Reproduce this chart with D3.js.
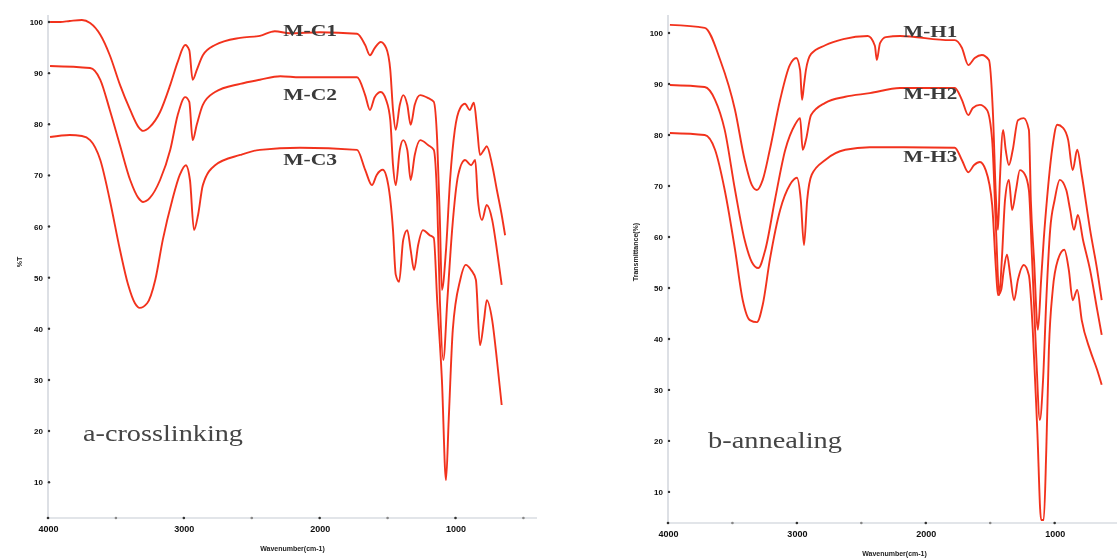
<!DOCTYPE html>
<meta charset="utf-8">

<!-- Load d3.js -->
<script src="https://d3js.org/d3.v7.min.js"></script>

<style>
  body { margin: 0; background: #fff; }
</style>

<!-- Create a div where the graph will take place -->
<div id="my_dataviz"></div>

<script>

// axis ticks, shared by both panels
var yTicks = [10, 20, 30, 40, 50, 60, 70, 80, 90, 100];
var xTicks = [4000, 3000, 2000, 1000];
var xMinor = [3500, 2500, 1500, 500];

// a-crosslinking spectra, [wavenumber, %T]
var mc1 = [[3985,100],[3910,100],[3840,100.2],[3750,100.4],[3690,99.8],[3615,97.5],[3545,93.5],[3470,87.7],
  [3395,82.8],[3335,79.5],[3300,78.7],[3250,79.5],[3175,82.4],[3100,87.7],[3045,92.2],[2990,95.5],[2960,94.5],
  [2935,88.7],[2905,90.6],[2860,93.5],[2770,95.5],[2585,96.9],[2440,97.3],[2330,98.2],[2220,97.8],[2000,98.0],
  [1725,97.7],[1665,95.5],[1630,93.5],[1595,94.9],[1550,96.1],[1510,94.9],[1480,90.6],[1460,82.8],[1440,78.9],
  [1410,83.8],[1385,85.7],[1355,83.8],[1330,79.9],[1300,83.8],[1260,85.7],[1200,85.1],[1160,84.4],[1135,76.9],
  [1115,61.3],[1100,47.6],[1070,55.4],[1040,69.1],[1005,78.9],[965,83.2],[930,84.0],[895,82.8],[865,84.2],
  [840,78.9],[820,74.0],[790,75.0],[770,75.7],[730,72.0],[695,67.1],[660,62.3],[635,58.3]];

var mc2 = [[3985,91.4],[3690,91.0],[3615,88.7],[3545,82.8],[3470,75.9],[3395,69.1],[3335,65.6],[3300,64.8],
  [3250,65.6],[3175,69.1],[3100,75.0],[3045,81.8],[2990,85.3],[2960,84.4],[2935,76.9],[2905,79.9],[2860,83.8],
  [2770,86.3],[2585,87.9],[2440,88.7],[2290,89.4],[2145,89.2],[1725,89.2],[1665,85.7],[1630,82.8],[1595,85.3],
  [1550,86.3],[1510,84.7],[1480,80.8],[1460,72.0],[1440,68.1],[1410,75.0],[1385,76.9],[1355,75.0],[1330,69.1],
  [1300,74.0],[1260,76.9],[1200,75.9],[1160,75.0],[1135,65.2],[1115,45.6],[1090,33.9],[1060,45.6],[1025,59.3],
  [980,70.1],[930,73.0],[885,72.0],[855,73.0],[835,65.2],[805,61.3],[770,64.2],[730,61.3],[695,55.4],[660,48.6]];

var mc3 = [[3985,77.5],[3840,77.9],[3750,77.7],[3690,76.9],[3615,73.0],[3545,65.2],[3470,55.4],[3410,48.6],
  [3360,45.0],[3325,44.1],[3270,45.0],[3210,49.6],[3155,57.4],[3085,65.2],[3030,70.1],[2985,72.0],[2955,69.1],
  [2925,59.3],[2895,62.3],[2860,68.1],[2770,72.0],[2585,74.0],[2440,75.0],[2145,75.4],[1725,75.0],[1665,71.1],
  [1615,68.1],[1580,70.1],[1535,71.1],[1495,68.1],[1460,59.3],[1440,50.6],[1415,49.2],[1385,57.4],[1355,59.3],
  [1330,55.4],[1305,51.5],[1275,56.4],[1240,59.3],[1190,58.3],[1160,57.8],[1135,45.6],[1100,30.0],[1070,10.4],
  [1050,22.2],[1020,39.8],[965,49.6],[925,52.5],[885,51.5],[850,49.6],[820,36.8],[790,41.7],[770,45.6],
  [730,41.7],[695,33.9],[660,25.1]];

// b-annealing spectra, [wavenumber, %T]
var mh1 = [[3985,101.6],[3715,101.0],[3595,94.7],[3480,84.9],[3405,75.1],[3350,70.2],[3310,69.2],[3265,71.2],
  [3210,77.1],[3130,86.9],[3055,93.7],[3005,95.1],[2975,92.7],[2960,86.9],[2945,89.8],[2930,92.7],[2890,95.9],
  [2780,97.6],[2640,98.8],[2450,99.4],[2395,97.5],[2380,94.7],[2355,98.0],[2310,99.2],[2200,99.4],[1810,98.6],
  [1775,98.6],[1720,97.1],[1670,93.7],[1620,95.1],[1565,95.7],[1510,94.7],[1480,84.9],[1455,67.3],[1440,61.4],
  [1425,71.2],[1400,81.0],[1380,77.1],[1355,74.1],[1325,77.1],[1285,82.9],[1240,83.3],[1200,81.0],[1185,67.3],
  [1160,55.5],[1130,41.8],[1105,51.6],[1085,59.4],[1060,67.3],[1020,77.1],[980,82.0],[935,81.4],[895,79.0],
  [860,73.1],[825,77.1],[790,72.2],[725,61.4],[670,53.5],[635,47.6]];

var mh2 = [[3985,89.8],[3715,89.4],[3635,86.9],[3560,81.0],[3480,69.2],[3405,59.4],[3350,55.1],[3300,53.9],
  [3245,57.5],[3170,67.3],[3090,77.1],[3015,82.0],[2975,83.3],[2955,77.1],[2930,79.0],[2890,83.9],[2780,86.3],
  [2625,87.5],[2435,88.2],[2200,89.2],[1775,89.2],[1720,86.9],[1670,83.9],[1635,85.3],[1580,85.9],[1525,84.9],
  [1485,79.0],[1455,61.4],[1430,48.6],[1410,55.5],[1385,67.3],[1355,71.2],[1330,65.3],[1300,69.2],[1270,73.1],
  [1230,72.2],[1200,69.2],[1175,55.5],[1145,37.8],[1115,24.1],[1090,32.0],[1065,47.6],[1035,61.4],[1000,67.3],
  [960,71.2],[910,69.2],[880,65.3],[850,61.4],[820,64.3],[780,59.4],[725,53.5],[670,45.7],[635,40.8]];

var mh3 = [[3985,80.4],[3715,80.0],[3635,77.1],[3560,69.2],[3480,57.5],[3420,47.6],[3365,43.7],[3310,43.3],
  [3265,46.7],[3210,55.5],[3130,65.3],[3055,70.2],[3000,71.6],[2970,67.3],[2945,58.4],[2920,67.3],[2885,72.2],
  [2780,75.1],[2625,77.1],[2435,77.6],[2275,77.6],[1775,77.5],[1720,75.1],[1670,72.7],[1625,74.1],[1580,74.7],
  [1535,73.1],[1485,66.3],[1455,53.5],[1440,48.6],[1415,49.6],[1395,53.5],[1370,56.5],[1345,52.5],[1315,47.6],
  [1285,51.6],[1240,54.5],[1200,52.5],[1170,41.8],[1135,22.2],[1105,4.5],[1085,4.5],[1065,18.2],[1045,37.8],
  [1015,49.6],[975,55.5],[925,57.5],[890,53.5],[860,47.6],[825,49.6],[790,43.7],[725,37.8],[670,33.9],[635,31.0]];

var crossNames = ["M-C1", "M-C2", "M-C3"];
var annealNames = ["M-H1", "M-H2", "M-H3"];
var panelTitles = ["a-crosslinking", "b-annealing"];
var xTitle = "Wavenumber(cm-1)";
var yTitles = ["%T", "Transmittance(%)"];

var svg = d3.select("#my_dataviz")
  .append("svg")
    .attr("width", 1117)
    .attr("height", 559);

// the source picture is a soft, scanned figure
var defs = svg.append("defs");
defs.append("filter").attr("id", "soft")
  .append("feGaussianBlur").attr("stdDeviation", 0.45);

var root = svg.append("g").attr("filter", "url(#soft)");

function drawPanel(p) {
  var g = root.append("g");

  var x = d3.scaleLinear().domain([4000, 400]).range([p.left, p.right]);
  var y = d3.scaleLinear().domain([p.yMin, 100]).range([p.bottom, p.top]);

  // axis lines
  g.append("line")
    .attr("x1", p.left).attr("x2", p.left)
    .attr("y1", 15).attr("y2", p.bottom)
    .style("stroke", "#c6cbd4").style("stroke-width", 1.2);
  g.append("line")
    .attr("x1", p.left).attr("x2", Math.min(p.right, 1117))
    .attr("y1", p.bottom).attr("y2", p.bottom)
    .style("stroke", "#c6cbd4").style("stroke-width", 1.2);

  // Y ticks
  var yAxis = g.append("g")
    .attr("transform", "translate(" + p.left + ",0)")
    .call(d3.axisLeft(y).tickValues(yTicks).tickSize(0).tickPadding(5));
  yAxis.select(".domain").remove();
  yAxis.selectAll("text")
    .style("font-family", "Liberation Sans").style("font-size", "8px")
    .style("font-weight", "bold").style("fill", "#111");
  g.selectAll(".ydot")
    .data(yTicks)
    .enter()
    .append("circle")
      .attr("cx", p.left + 1)
      .attr("cy", function (d) { return y(d); })
      .attr("r", 1.2)
      .style("fill", "#333");

  // X ticks
  var xAxis = g.append("g")
    .attr("transform", "translate(0," + p.bottom + ")")
    .call(d3.axisBottom(x).tickValues(xTicks).tickFormat(d3.format("d")).tickSize(0).tickPadding(8));
  xAxis.select(".domain").remove();
  xAxis.selectAll("text")
    .style("font-family", "Liberation Sans").style("font-size", "9px")
    .style("font-weight", "bold").style("fill", "#111");
  g.selectAll(".xdot")
    .data(xTicks.concat(xMinor))
    .enter()
    .append("circle")
      .attr("cx", function (d) { return x(d); })
      .attr("cy", p.bottom)
      .attr("r", 1.3)
      .style("fill", function (d) { return xTicks.indexOf(d) >= 0 ? "#333" : "#888"; });

  // axis titles
  g.append("text")
    .attr("x", (p.left + Math.min(p.right, 1117)) / 2 + p.titleShift)
    .attr("y", p.bottom + 33)
    .attr("text-anchor", "middle")
    .text(xTitle)
    .style("font-family", "Liberation Sans").style("font-size", "7px")
    .style("font-weight", "bold").style("fill", "#222");
  g.append("text")
    .attr("transform", "translate(" + p.yTitleX + "," + p.yTitleY + ") rotate(-90)")
    .attr("text-anchor", "middle")
    .text(p.yTitle)
    .style("font-family", "Liberation Sans").style("font-size", "7px")
    .style("font-weight", "bold").style("fill", "#222");

  // spectra
  var line = d3.line()
    .x(function (d) { return x(d[0]); })
    .y(function (d) { return y(d[1]); })
    .curve(d3.curveMonotoneX);

  g.selectAll(".spec")
    .data(p.series)
    .enter()
    .append("path")
      .attr("d", line)
      .style("fill", "none")
      .style("stroke", "#f2331f")
      .style("stroke-width", 1.9)
      .style("stroke-linejoin", "round");

  // series names sit on the plateau of each curve
  p.names.forEach(function (name, i) {
    g.append("text")
      .attr("x", x(p.labelWn))
      .attr("y", y(p.labelT[i]) + 6)
      .attr("text-anchor", "middle")
      .text(name)
      .style("font-family", "Liberation Serif").style("font-size", "17px")
      .style("font-weight", "bold").style("fill", "#3a3a3a")
      .attr("textLength", 54).attr("lengthAdjust", "spacingAndGlyphs");
  });

  // panel title
  g.append("text")
    .attr("x", p.titleX)
    .attr("y", p.titleY)
    .text(p.title)
    .style("font-family", "Liberation Serif").style("font-size", "24px")
    .style("fill", "#444")
    .attr("textLength", p.titleLen).attr("lengthAdjust", "spacingAndGlyphs");
}

drawPanel({
  left: 48, right: 537, top: 22, bottom: 518, yMin: 3,
  series: [mc1, mc2, mc3], names: crossNames,
  labelWn: 2070, labelT: [98.4, 86.0, 73.2],
  title: panelTitles[0], titleX: 83, titleY: 441, titleLen: 160,
  yTitle: yTitles[0], yTitleX: 22, yTitleY: 262, titleShift: 0
});

drawPanel({
  left: 668, right: 1132, top: 33, bottom: 523, yMin: 3.9,
  series: [mh1, mh2, mh3], names: annealNames,
  labelWn: 1965, labelT: [100.4, 88.2, 75.8],
  title: panelTitles[1], titleX: 708, titleY: 448, titleLen: 134,
  yTitle: yTitles[1], yTitleX: 638, yTitleY: 252, titleShift: 2
});

</script>
